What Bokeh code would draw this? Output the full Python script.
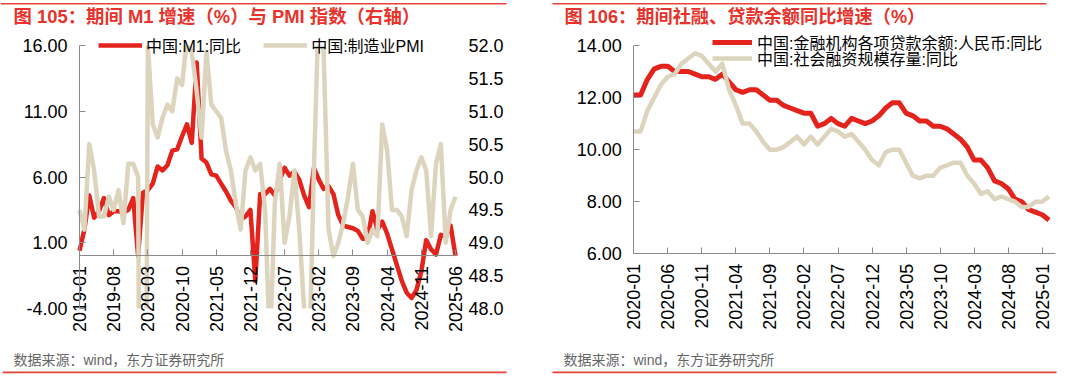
import math
import pandas as pd
from bokeh.plotting import figure
from bokeh.models import (Range1d, LinearAxis, FixedTicker, Legend, LegendItem,
                          Label, BoxAnnotation, NumeralTickFormatter, ColumnDataSource)
from bokeh.layouts import row
from bokeh.embed import file_html
from bokeh.resources import INLINE

# ---------------- data: left chart (2019-01 .. 2025-06, monthly) ----------------
m1_yoy = [0.4, 2.0, 4.6, 2.9, 3.4, 4.4, 3.1, 3.4, 3.4, 3.3, 3.5, 4.4,
          0.0, 4.8, 5.0, 5.5, 6.8, 6.5, 6.9, 8.0, 8.1, 9.1, 10.0, 8.6,
          14.7, 7.4, 7.1, 6.2, 6.1, 5.5, 4.9, 4.2, 3.7, 2.8, 3.0, 3.5,
          -1.9, 4.7, 4.7, 5.1, 4.6, 5.8, 6.7, 6.1, 6.4, 5.8, 4.6, 3.7,
          6.7, 5.8, 5.1, 5.3, 4.7, 3.1, 2.3, 2.2, 2.1, 1.9, 1.3, 1.3,
          3.4, 2.0, 2.6, 1.7, 0.5, -0.7, -1.9, -2.8, -3.2, -2.6, -1.2, 1.2,
          0.5, 0.1, 1.6, 1.5, 2.3, 0.0]
pmi = [49.5, 49.2, 50.5, 50.1, 49.4, 49.4, 49.7, 49.5, 49.8, 49.3, 50.2, 50.2,
       50.0, 35.7, 52.0, 50.8, 50.6, 50.9, 51.1, 51.0, 51.5, 51.4, 52.1, 51.9,
       51.3, 50.6, 51.9, 51.1, 51.0, 50.9, 50.4, 50.1, 49.6, 49.2, 50.1, 50.3,
       50.1, 50.2, 49.5, 47.4, 49.6, 50.2, 49.0, 49.4, 50.1, 49.2, 48.0, 47.0,
       50.1, 52.6, 51.9, 49.2, 48.8, 49.0, 49.3, 49.7, 50.2, 49.5, 49.4, 49.0,
       49.2, 49.1, 50.8, 50.4, 49.5, 49.5, 49.4, 49.1, 49.8, 50.1, 50.3, 50.1,
       49.1, 50.2, 50.5, 49.0, 49.5, 49.7]
left_months = [str(p) for p in pd.period_range("2019-01", periods=len(m1_yoy), freq="M")]
left_tick_labels = ["2019-01", "2019-08", "2020-03", "2020-10", "2021-05", "2021-12",
                    "2022-07", "2023-02", "2023-09", "2024-04", "2024-11", "2025-06"]
left_y_ticks = [-4, 1, 6, 11, 16]
pmi_ticks = [48.0, 48.5, 49.0, 49.5, 50.0, 50.5, 51.0, 51.5, 52.0]

# ---------------- data: right chart (2020-01 .. 2025-02, monthly) ----------------
loan_yoy = [12.1, 12.1, 12.7, 13.1, 13.2, 13.2, 13.0, 13.0, 13.0, 12.9, 12.8, 12.8,
            12.7, 12.9, 12.6, 12.3, 12.2, 12.3, 12.3, 12.1, 11.9, 11.9, 11.7, 11.6,
            11.5, 11.4, 11.4, 10.9, 11.0, 11.2, 11.0, 10.9, 11.2, 11.1, 11.0, 11.1,
            11.3, 11.6, 11.8, 11.8, 11.4, 11.3, 11.1, 11.1, 10.9, 10.9, 10.8, 10.6,
            10.4, 10.1, 9.6, 9.6, 9.3, 8.8, 8.7, 8.5, 8.1, 8.0, 7.7, 7.6,
            7.5, 7.3]
tsf_yoy = [10.7, 10.7, 11.5, 12.0, 12.5, 12.8, 12.9, 13.3, 13.5, 13.7, 13.6, 13.3,
           13.0, 13.3, 12.3, 11.7, 11.0, 11.0, 10.7, 10.3, 10.0, 10.0, 10.1, 10.3,
           10.5, 10.2, 10.5, 10.2, 10.5, 10.8, 10.7, 10.5, 10.6, 10.3, 10.0, 9.6,
           9.4, 9.9, 10.0, 10.0, 9.5, 9.0, 8.9, 9.0, 9.0, 9.3, 9.4, 9.5,
           9.5, 9.0, 8.7, 8.3, 8.4, 8.1, 8.2, 8.1, 8.0, 7.8, 7.8, 8.0,
           8.0, 8.2]
right_months = [str(p) for p in pd.period_range("2020-01", periods=len(loan_yoy), freq="M")]
right_tick_labels = ["2020-01", "2020-06", "2020-11", "2021-04", "2021-09", "2022-02",
                     "2022-07", "2022-12", "2023-05", "2023-10", "2024-03", "2024-08", "2025-01"]
right_y_ticks = [6, 8, 10, 12, 14]

# ---------------- styles / layout ----------------
RED = "#e5231d"
BEIGE = "#ddd4be"
TITLE_RED = "#e8322b"
RULE_RED = "#e8403a"
AXIS_GREY = "#8a8a8a"
MIX_FONT = "Liberation Sans, Noto Sans CJK SC"
LAT_FONT = "Liberation Sans"
W, H = 540, 381   # each panel


def style_axis(ax, fmt, standoff, size="18px"):
    ax.axis_line_color = AXIS_GREY
    ax.axis_line_width = 1
    ax.major_tick_line_color = AXIS_GREY
    ax.major_tick_in = 6
    ax.major_tick_out = 0
    ax.minor_tick_line_color = None
    ax.major_label_text_font = LAT_FONT
    ax.major_label_text_font_size = size
    ax.major_label_text_color = "#000000"
    ax.major_label_standoff = standoff
    if fmt is not None:
        ax.formatter = NumeralTickFormatter(format=fmt)


def add_text(p, px, py, text, size, color, bold=False):
    # px, py: pixel position from the panel's top-left corner (frame == whole panel)
    p.add_layout(Label(x=px, y=H - py, x_units="screen", y_units="screen", text=text,
                       text_font=MIX_FONT, text_font_size=size, text_color=color,
                       text_font_style="bold" if bold else "normal",
                       text_baseline="middle", text_align="left"))


def add_rule(p, x0, x1, y0, y1):
    p.add_layout(BoxAnnotation(left=x0, right=x1, top=H - y0, bottom=H - y1,
                               left_units="screen", right_units="screen",
                               top_units="screen", bottom_units="screen",
                               fill_color=RULE_RED, fill_alpha=1.0, line_color=None))


def add_legend(p, items, px, py_center, orientation="horizontal", spacing=0, glyph_width=40,
               standoff=4):
    # legend rows are ~23px tall; place the row centre at py_center (pixels from top)
    leg = Legend(items=items, orientation=orientation, location=(px, H - (py_center + 11.5)),
                 padding=0, margin=0, spacing=spacing, glyph_width=glyph_width, glyph_height=16,
                 label_height=16, label_standoff=standoff,
                 label_text_font=MIX_FONT, label_text_font_size="16px",
                 label_text_color="#000000",
                 background_fill_alpha=0, border_line_alpha=0)
    p.add_layout(leg, "center")


def make_fig(x_range, y_range):
    p = figure(width=W, height=H, x_range=x_range, y_range=y_range,
               output_backend="svg", toolbar_location=None, title=None,
               min_border=0, min_border_left=0, min_border_right=0,
               min_border_top=0, min_border_bottom=0)
    p.xgrid.visible = False
    p.ygrid.visible = False
    p.outline_line_color = None
    p.background_fill_color = "white"
    p.border_fill_color = "white"
    return p


# ================= LEFT PANEL =================
LX0, LX1 = 79, 455      # pixel of first / last month
LYT, LYB = 45, 308      # pixel of top / bottom tick
n_l = len(m1_yoy)
xpp = (n_l - 1) / (LX1 - LX0)
ypp = (left_y_ticks[-1] - left_y_ticks[0]) / (LYB - LYT)
lx_start = 0 - LX0 * xpp
lx_end = lx_start + W * xpp
ly_end = left_y_ticks[-1] + LYT * ypp
ly_start = left_y_ticks[0] - (H - LYB) * ypp
pmi_lo, pmi_hi = pmi_ticks[0], pmi_ticks[-1]
k = (pmi_hi - pmi_lo) / (left_y_ticks[-1] - left_y_ticks[0])

pl = make_fig(Range1d(lx_start, lx_end), Range1d(ly_start, ly_end))
pl.extra_y_ranges = {"pmi": Range1d(pmi_lo + (ly_start - left_y_ticks[0]) * k,
                                    pmi_lo + (ly_end - left_y_ticks[0]) * k)}

src_l = ColumnDataSource(dict(x=list(range(n_l)), m1=m1_yoy, pmi=pmi))
r_m1 = pl.line("x", "m1", source=src_l, line_color=RED, line_width=4.5, line_join="round")
r_pmi = pl.line("x", "pmi", source=src_l, line_color=BEIGE, line_width=4.5,
                line_join="round", y_range_name="pmi")
# white masks: clip the lines to the plotting area (outside the axis bounds)
pl.quad(left=[0], right=[n_l - 1], bottom=[ly_start], top=[left_y_ticks[0]],
        fill_color="white", line_color=None)
pl.quad(left=[0], right=[n_l - 1], bottom=[left_y_ticks[-1]], top=[ly_end],
        fill_color="white", line_color=None)

xa = pl.xaxis[0]
style_axis(xa, None, 10)
xa.fixed_location = 0
xa.bounds = (0, n_l - 1)
xa.ticker = FixedTicker(ticks=[left_months.index(t) for t in left_tick_labels])
xa.major_label_overrides = {left_months.index(t): t for t in left_tick_labels}
xa.major_label_orientation = math.pi / 2

ya = pl.yaxis[0]
style_axis(ya, "0.00", 12)
ya.fixed_location = 0
ya.bounds = (left_y_ticks[0], left_y_ticks[-1])
ya.ticker = FixedTicker(ticks=left_y_ticks)

ra = LinearAxis(y_range_name="pmi")
style_axis(ra, "0.0", 13)
ra.axis_line_color = None
ra.major_tick_line_color = None
ra.fixed_location = n_l - 1
ra.bounds = (pmi_lo, pmi_hi)
ra.ticker = FixedTicker(ticks=pmi_ticks)
pl.add_layout(ra, "right")

add_legend(pl, [LegendItem(label="中国:M1:同比", renderers=[r_m1]),
                LegendItem(label="中国:制造业PMI", renderers=[r_pmi])],
           98, 45.7, spacing=22, glyph_width=44, standoff=4)

add_text(pl, 13, 16, "图 105：期间 M1 增速（%）与 PMI 指数（右轴）", "18.4px", TITLE_RED, bold=True)
add_text(pl, 13, 359, "数据来源：wind，东方证券研究所", "14px", "#666666")
add_rule(pl, 0, 506, 2.5, 4)
add_rule(pl, 2, 506, 371, 372.7)

# ================= RIGHT PANEL =================
RX0, RX60 = 93.3, 501.7   # pixel of first month and of 2025-01
RYT, RYB = 45, 253.3      # pixel of 14.00 and 6.00
n_r = len(loan_yoy)
rxpp = 60 / (RX60 - RX0)
rypp = (right_y_ticks[-1] - right_y_ticks[0]) / (RYB - RYT)
rx_start = 0 - RX0 * rxpp
rx_end = rx_start + W * rxpp
ry_end = right_y_ticks[-1] + RYT * rypp
ry_start = right_y_ticks[0] - (H - RYB) * rypp

pr = make_fig(Range1d(rx_start, rx_end), Range1d(ry_start, ry_end))
src_r = ColumnDataSource(dict(x=list(range(n_r)), loan=loan_yoy, tsf=tsf_yoy))
r_loan = pr.line("x", "loan", source=src_r, line_color=RED, line_width=5, line_join="round")
r_tsf = pr.line("x", "tsf", source=src_r, line_color=BEIGE, line_width=4.5, line_join="round")

xb = pr.xaxis[0]
style_axis(xb, None, 10)
xb.fixed_location = right_y_ticks[0]
xb.bounds = (0, n_r)
xb.ticker = FixedTicker(ticks=[right_months.index(t) for t in right_tick_labels])
xb.major_label_overrides = {right_months.index(t): t for t in right_tick_labels}
xb.major_label_orientation = math.pi / 2

yb = pr.yaxis[0]
style_axis(yb, "0.00", 12)
yb.fixed_location = 0
yb.bounds = (right_y_ticks[0], right_y_ticks[-1])
yb.ticker = FixedTicker(ticks=right_y_ticks)

add_legend(pr, [LegendItem(label="中国:金融机构各项贷款余额:人民币:同比", renderers=[r_loan])],
           172, 42.3, glyph_width=40, standoff=5)
add_legend(pr, [LegendItem(label="中国:社会融资规模存量:同比", renderers=[r_tsf])],
           172, 58.3, glyph_width=40, standoff=5)

add_text(pr, 24, 16, "图 106：期间社融、贷款余额同比增速（%）", "18.2px", TITLE_RED, bold=True)
add_text(pr, 23, 359, "数据来源：wind，东方证券研究所", "14px", "#666666")
add_rule(pr, 12, 506, 2.5, 4)
add_rule(pr, 12, 516, 371, 372.7)

layout = row(pl, pr, spacing=0)
open("out.html", "w").write(file_html(layout, INLINE))
